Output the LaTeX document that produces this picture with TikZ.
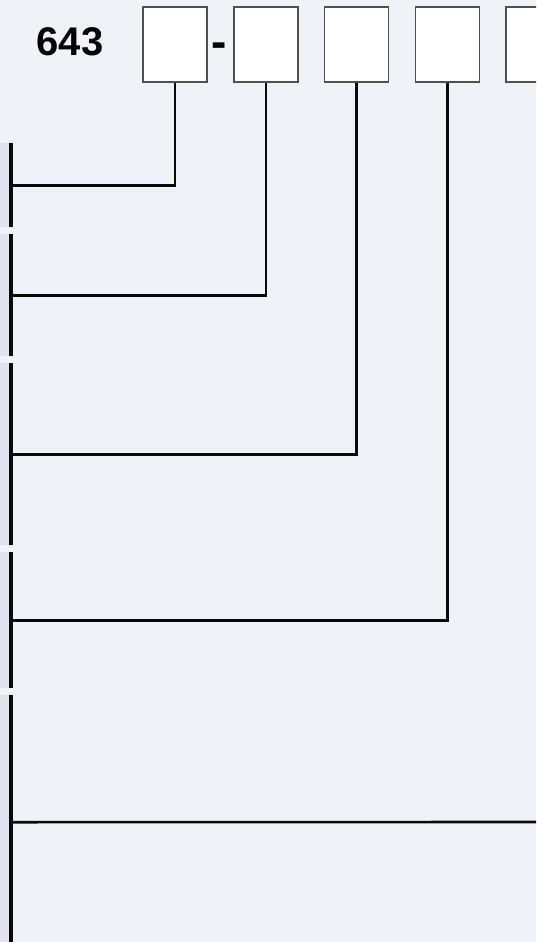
\documentclass[tikz,border=0pt]{standalone}
\usepackage{fontspec}
\setmainfont{Liberation Sans}
\usetikzlibrary{positioning}
\definecolor{FormBg}{RGB}{240,242,248}
\definecolor{FormBand}{RGB}{224,228,240}
\definecolor{FormEdge}{RGB}{80,80,80}
\definecolor{FormInk}{RGB}{10,10,10}

\begin{document}
\begin{tikzpicture}[x=1pt, y=-1pt,
          digit/.style={rectangle, draw=FormEdge, line width=1.3pt, fill=white,
                        minimum width=64pt, minimum height=75pt, inner sep=0pt},
          band/.style={rectangle, fill=FormBand, minimum width=10.5pt,
                       inner sep=0pt, anchor=north west},
          bar/.style={draw=FormInk, line width=3.2pt},
          wire/.style={draw=FormInk, line width=2.6pt},
          num/.style={font=\fontsize{40}{40}\selectfont\bfseries, inner sep=0pt, anchor=base}
        ]
        \useasboundingbox (0,0) rectangle (536,942);
        \clip (0,0) rectangle (536,942);
        \fill[FormBg] (0,0) rectangle (536,942);

        % Code prefix and digit boxes
        \node[num] (pre)  at (70,56)    {643};
        \node[num, font=\fontsize{46}{46}\selectfont\bfseries] (dash) at (219.5,57.5) {-};
        \foreach \i/\x in {1/175, 2/266, 3/356.5, 4/447.5, 5/538} {
          \node[digit] (b\i) at (\x,44.5) {};
        }

        % Left bands
        \foreach \i/\y/\h in {1/143/84, 2/234/122, 3/363/182, 4/552/136, 5/695/254} {
          \node[band, minimum height=\h pt] (s\i) at (0,\y) {};
          \draw[bar] (s\i.north east) -- (s\i.south east);
        }

        \foreach \i in {1,...,4} {
          \draw[wire] (b\i.south) |- (s\i.east);
        }
        \coordinate (rim) at (536,822);
        \draw[wire] (s5.east) -- (rim);
      \end{tikzpicture}
\end{document}
